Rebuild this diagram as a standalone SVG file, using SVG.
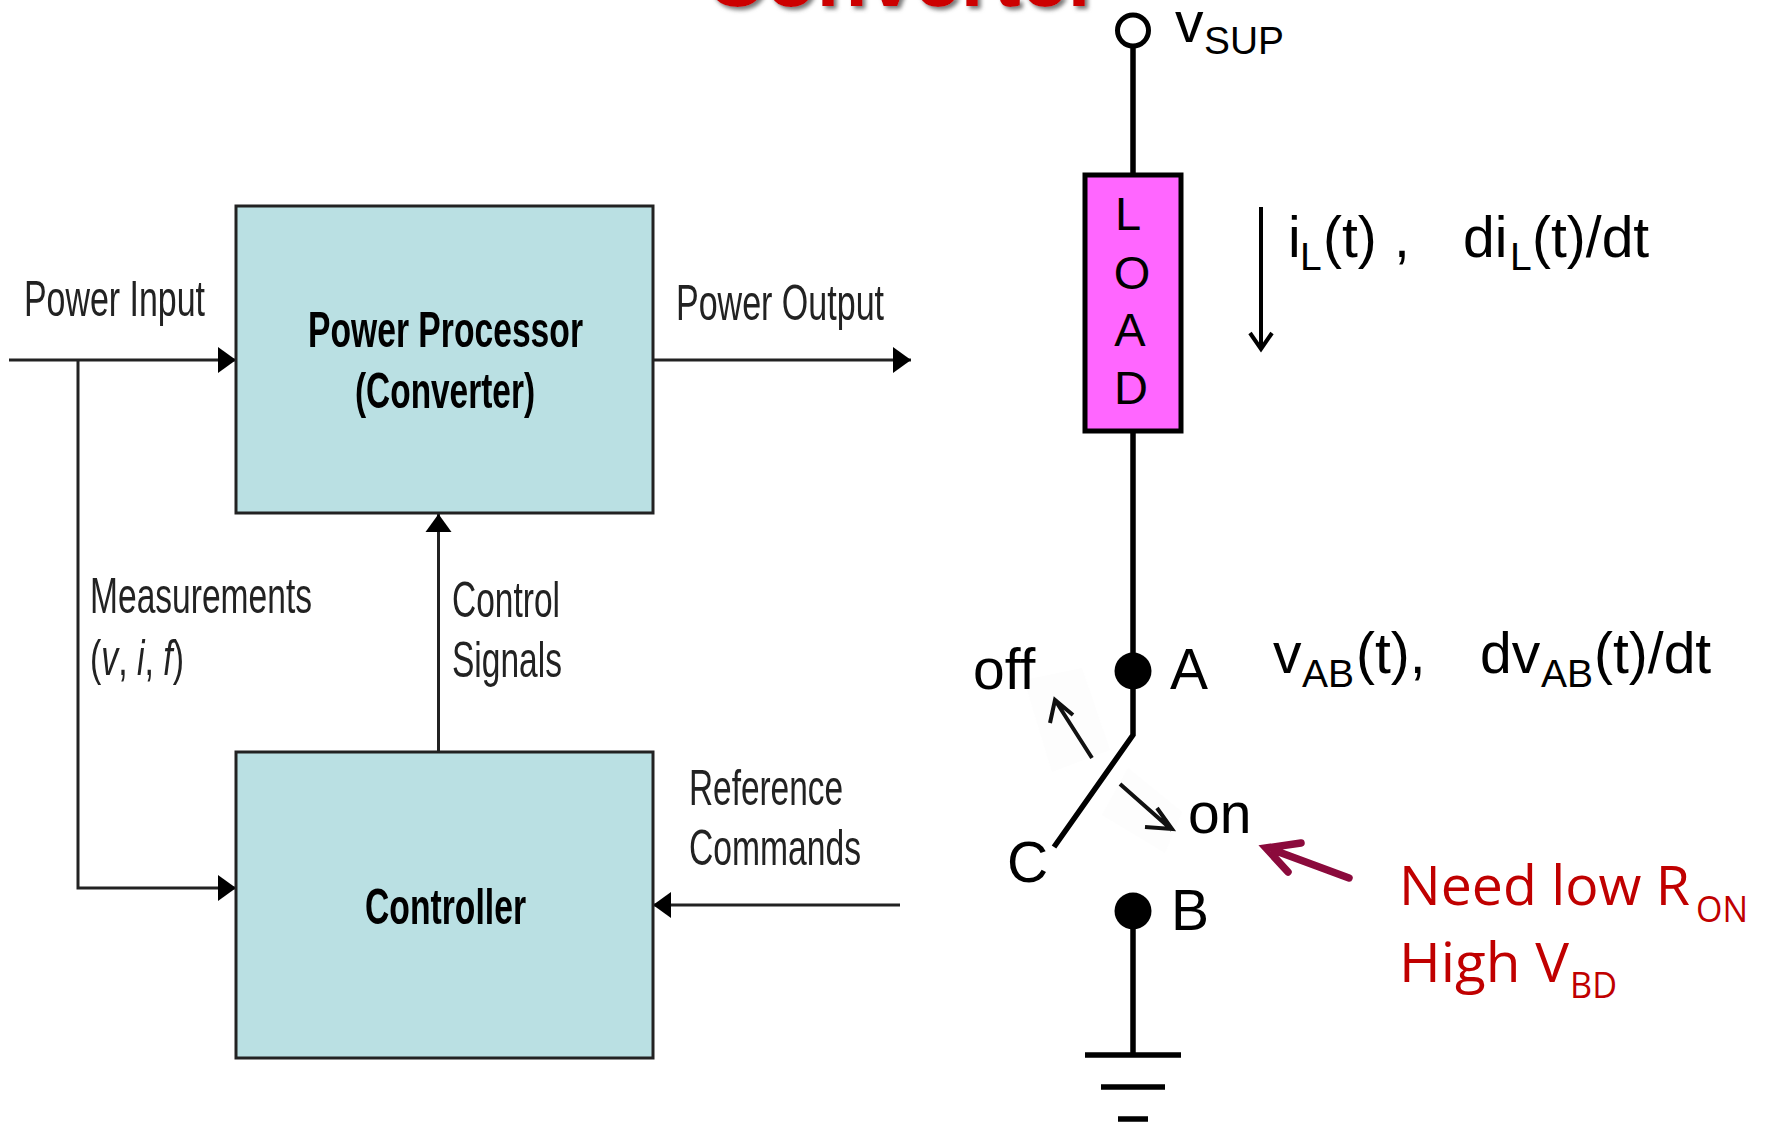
<svg xmlns="http://www.w3.org/2000/svg" width="1767" height="1132" viewBox="0 0 1767 1132">
<style>
text{font-family:"Liberation Sans",Arial,sans-serif;fill:#000}
.l{font-size:50px;filter:url(#soft);fill:#222}
.b{font-weight:bold;fill:#000}
.c{font-size:57px}
.s{font-size:39px}
.r{font-family:"Open Sans","Noto Sans",sans-serif;font-size:54px;fill:#c00000}
.rs{font-family:"Open Sans","Noto Sans",sans-serif;font-size:36px;fill:#c00000}
.box{fill:#bae0e3;stroke:#222;stroke-width:3}
.w{fill:none;stroke:#000;stroke-width:5.5}
.t{fill:none;stroke:#222;stroke-width:3}
</style>
<defs>
<filter id="soft" x="-5%" y="-20%" width="110%" height="140%"><feGaussianBlur stdDeviation="0.7"/></filter>
<filter id="shadow" x="-5%" y="-50%" width="110%" height="200%"><feDropShadow dx="3" dy="3" stdDeviation="2" flood-color="#777"/></filter>
<marker id="ah" markerUnits="userSpaceOnUse" markerWidth="20" markerHeight="28" refX="18" refY="14" orient="auto"><path d="M0 1L18 14L0 27Z" fill="#000"/></marker>
</defs>
<text id="title" x="705" y="6" font-size="84" font-weight="bold" textLength="395" lengthAdjust="spacingAndGlyphs" style="fill:#cc0000;filter:url(#shadow)">Converter</text>
<g id="connectors">
<path class="t" d="M9 360H236" marker-end="url(#ah)"/>
<path class="t" d="M78 360V888H236" marker-end="url(#ah)"/>
<path class="t" d="M652 360H911" marker-end="url(#ah)"/>
<path class="t" d="M438.500 752V514" marker-end="url(#ah)"/>
<path class="t" d="M900 905H653" marker-end="url(#ah)"/>
<path class="w" d="M1133 48V175M1133 431V735L1054 847M1133 911V1055"/>
<path fill="none" stroke="#000" stroke-width="4" d="M1261 207V347M1250 333L1261 349L1272 333"/>
<path fill="none" stroke="#8b0a3c" stroke-width="7.500" stroke-linecap="round" d="M1349 878L1268 848M1301 843L1266 848L1288 872"/>
</g>
<g id="switch-arrows">
<path fill="#fdfdfd" d="M1024 680L1082 668L1110 750L1052 772Z"/>
<path fill="#fdfdfd" d="M1128 768L1182 812L1165 853L1102 815Z"/>
<path fill="none" stroke="#111" stroke-width="4" d="M1092 758L1055 700M1050 723L1055 700L1073 715M1120 784L1172 830M1157 808L1172 829L1145 827"/>
</g>
<g id="power-processor"><rect class="box" x="236" y="206" width="417" height="307"/>
<text class="l b" x="308" y="347" textLength="275" lengthAdjust="spacingAndGlyphs">Power Processor</text>
<text class="l b" x="355" y="408" textLength="180" lengthAdjust="spacingAndGlyphs">(Converter)</text></g>
<g id="controller"><rect class="box" x="236" y="752" width="417" height="306"/>
<text class="l b" x="365" y="924" textLength="161" lengthAdjust="spacingAndGlyphs">Controller</text></g>
<g id="labels">
<text class="l" x="24" y="316" textLength="181" lengthAdjust="spacingAndGlyphs">Power Input</text>
<text class="l" x="676" y="320" textLength="208" lengthAdjust="spacingAndGlyphs">Power Output</text>
<text class="l" x="90" y="613" textLength="222" lengthAdjust="spacingAndGlyphs">Measurements</text>
<text class="l" x="90" y="675" textLength="94" lengthAdjust="spacingAndGlyphs">(<tspan font-style="italic">v</tspan>, <tspan font-style="italic">i</tspan>, <tspan font-style="italic">f</tspan>)</text>
<text class="l" x="452" y="617" textLength="108" lengthAdjust="spacingAndGlyphs">Control</text>
<text class="l" x="452" y="677" textLength="110" lengthAdjust="spacingAndGlyphs">Signals</text>
<text class="l" x="689" y="805" textLength="154" lengthAdjust="spacingAndGlyphs">Reference</text>
<text class="l" x="689" y="865" textLength="172" lengthAdjust="spacingAndGlyphs">Commands</text>
</g>
<g id="vsup"><circle cx="1133" cy="30.500" r="15.500" fill="#fff" stroke="#000" stroke-width="5"/>
<text class="c" x="1175" y="42">v</text><text class="s" x="1204" y="54" textLength="80" lengthAdjust="spacingAndGlyphs">SUP</text></g>
<g id="load"><rect x="1085" y="175" width="96" height="256" fill="#ff66ff" stroke="#000" stroke-width="5"/>
<g font-size="47" text-anchor="middle"><text x="1128" y="230">L</text><text x="1132" y="289">O</text><text x="1130" y="346">A</text><text x="1131" y="404">D</text></g></g>
<g id="node-a"><circle cx="1133" cy="671" r="18.500"/><text class="c" x="1170" y="689">A</text></g>
<g id="node-b"><circle cx="1133" cy="911" r="18.500"/><text class="c" x="1171" y="930">B</text></g>
<g id="node-c"><text class="c" x="1007" y="882">C</text></g>
<g id="switch-labels"><text class="c" x="973" y="689">off</text><text class="c" x="1188" y="833">on</text></g>
<g id="ground"><path class="w" d="M1085 1055H1181M1101 1087H1165M1118 1119H1148"/></g>
<g id="annotations">
<text class="c" x="1288" y="257">i</text><text class="s" x="1300" y="270">L</text><text class="c" x="1323" y="257">(t)</text><text class="c" x="1394" y="257">,</text>
<text class="c" x="1463" y="257">di</text><text class="s" x="1510" y="270">L</text><text class="c" x="1532" y="257">(t)/dt</text>
<text class="c" x="1273" y="673">v</text><text class="s" x="1302" y="687">AB</text><text class="c" x="1356" y="673">(t),</text>
<text class="c" x="1480" y="673">dv</text><text class="s" x="1541" y="687">AB</text><text class="c" x="1594" y="673">(t)/dt</text>
<text class="r" x="1399" y="905" textLength="291" lengthAdjust="spacingAndGlyphs">Need low R</text><text class="rs" x="1696" y="922" textLength="52" lengthAdjust="spacingAndGlyphs">ON</text>
<text class="r" x="1399" y="982" textLength="170" lengthAdjust="spacingAndGlyphs">High V</text><text class="rs" x="1570" y="998" textLength="47" lengthAdjust="spacingAndGlyphs">BD</text>
</g>
</svg>
